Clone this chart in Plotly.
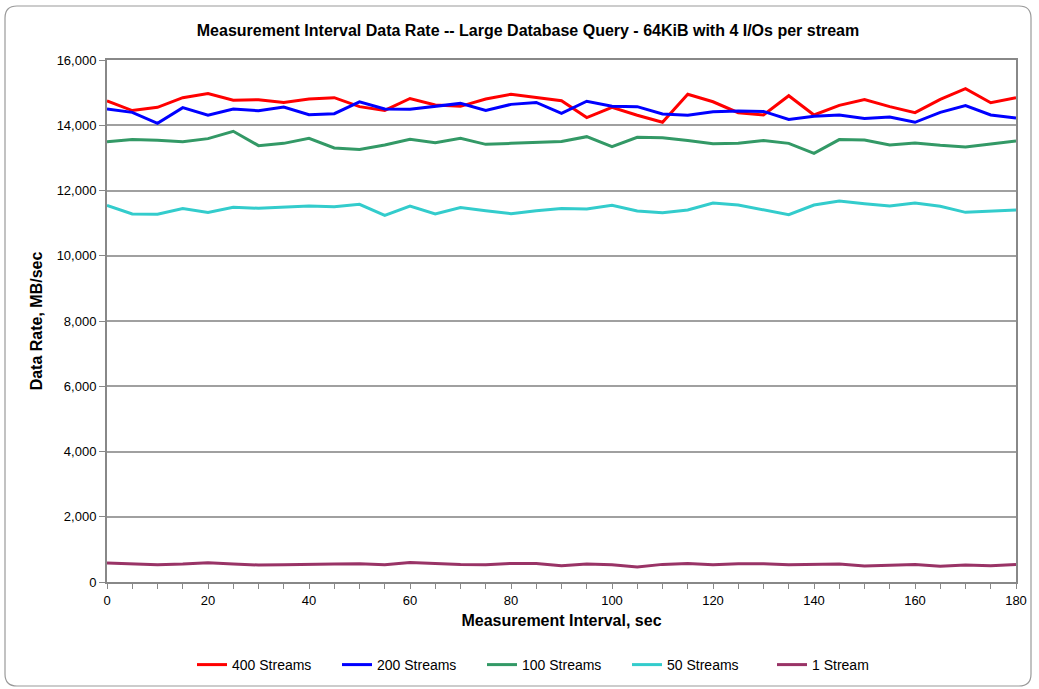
import plotly.graph_objects as go

# Measurement interval (seconds)
interval_sec = list(range(0, 181, 5))

# Data rate (MB/sec) per stream count
rate_400 = [14750, 14450, 14550, 14845, 14970, 14765, 14785, 14700, 14805, 14845,
            14570, 14455, 14820, 14620, 14580, 14805, 14950, 14845, 14750, 14235,
            14550, 14305, 14090, 14950, 14720, 14385, 14315, 14905, 14315, 14610,
            14785, 14570, 14385, 14795, 15120, 14690, 14845]
rate_200 = [14500, 14395, 14060, 14540, 14305, 14500, 14445, 14560, 14325, 14355,
            14715, 14500, 14490, 14580, 14670, 14455, 14640, 14700, 14365, 14735,
            14580, 14570, 14345, 14305, 14415, 14435, 14425, 14180, 14275, 14315,
            14210, 14255, 14090, 14395, 14600, 14315, 14220]
rate_100 = [13495, 13560, 13540, 13495, 13590, 13815, 13375, 13445, 13600, 13305,
            13260, 13395, 13570, 13465, 13600, 13415, 13445, 13475, 13505, 13650,
            13345, 13630, 13620, 13530, 13435, 13445, 13530, 13445, 13140, 13560,
            13550, 13395, 13455, 13385, 13335, 13425, 13515]
rate_50 = [11545, 11280, 11270, 11445, 11330, 11485, 11455, 11485, 11525, 11505,
           11575, 11240, 11525, 11280, 11475, 11380, 11290, 11380, 11445, 11435,
           11545, 11370, 11320, 11400, 11615, 11555, 11410, 11260, 11555, 11680,
           11595, 11525, 11615, 11515, 11330, 11360, 11400]
rate_1 = [580, 560, 530, 550, 590, 550, 520, 530, 550, 550,
          560, 530, 600, 560, 540, 530, 570, 570, 500, 550,
          530, 460, 540, 570, 530, 560, 560, 530, 540, 550,
          490, 520, 540, 480, 520, 500, 540]

series_names = ["400 Streams", "200 Streams", "100 Streams", "50 Streams", "1 Stream"]
series_values = [rate_400, rate_200, rate_100, rate_50, rate_1]
series_colors = ["#FF0000", "#0000FF", "#339966", "#33CCCC", "#993366"]

y_ticks = list(range(0, 16001, 2000))
x_ticks = list(range(0, 181, 20))

FONT = "Liberation Sans, Arial, sans-serif"
W, H = 1039, 689
ML, MR, MT, MB = 107, 23, 60, 107

fig = go.Figure()
for name, vals, color in zip(series_names, series_values, series_colors):
    fig.add_trace(go.Scatter(
        x=interval_sec, y=vals, name=name, mode="lines",
        line=dict(color=color, width=3),
    ))

# Rounded outer frame drawn in paper coordinates
pw, ph = W - ML - MR, H - MT - MB
def px(x):
    return (x - ML) / pw
def py(y):
    return (H - MB - y) / ph

x0, y0, x1, y1, r = 5, 6, 1031, 686, 12
path = (
    f"M {px(x0 + r)},{py(y0)} L {px(x1 - r)},{py(y0)} "
    f"Q {px(x1)},{py(y0)} {px(x1)},{py(y0 + r)} "
    f"L {px(x1)},{py(y1 - r)} Q {px(x1)},{py(y1)} {px(x1 - r)},{py(y1)} "
    f"L {px(x0 + r)},{py(y1)} Q {px(x0)},{py(y1)} {px(x0)},{py(y1 - r)} "
    f"L {px(x0)},{py(y0 + r)} Q {px(x0)},{py(y0)} {px(x0 + r)},{py(y0)} Z"
)
fig.add_shape(type="path", path=path, xref="paper", yref="paper",
              line=dict(color="#9a9a9a", width=1.2), layer="below")

fig.update_layout(
    width=W, height=H,
    margin=dict(l=ML, r=MR, t=MT, b=MB),
    paper_bgcolor="white", plot_bgcolor="white",
    font=dict(family=FONT, size=13, color="#000000"),
    title=dict(
        text="<b>Measurement Interval Data Rate -- Large Database Query - 64KiB with 4 I/Os per stream</b>",
        x=528 / W, xanchor="center", xref="container",
        y=1 - 30 / H, yanchor="middle", yref="container",
        font=dict(family=FONT, size=16),
    ),
    legend=dict(
        orientation="h", xref="container", yref="container",
        x=192 / W, xanchor="left", y=1 - 665 / H, yanchor="middle",
        font=dict(family=FONT, size=14), itemwidth=30,
        entrywidth=100, entrywidthmode="pixels",
        traceorder="normal",
    ),
    showlegend=True,
)

fig.update_xaxes(
    range=[0, 180], tickvals=x_ticks, ticktext=[str(v) for v in x_ticks],
    ticks="outside", ticklen=5, tickcolor="#888888",
    minor=dict(dtick=5, tick0=0, ticks="outside", ticklen=5, tickcolor="#888888", showgrid=False),
    showline=True, linecolor="#888888", linewidth=2, mirror=True,
    showgrid=False, zeroline=False,
    title=dict(text="<b>Measurement Interval, sec</b>", font=dict(family=FONT, size=16), standoff=8),
    tickfont=dict(size=13),
)
fig.update_yaxes(
    range=[0, 16000], tickvals=y_ticks, ticktext=[f"{v:,}" for v in y_ticks],
    ticks="outside", ticklen=6, tickcolor="#888888",
    showline=True, linecolor="#888888", linewidth=2, mirror=True,
    showgrid=True, gridcolor="#a0a0a0", gridwidth=1.5, zeroline=False,
    title=dict(text="<b>Data Rate, MB/sec</b>", font=dict(family=FONT, size=16), standoff=10),
    tickfont=dict(size=13),
)

fig.write_html("out.html")
